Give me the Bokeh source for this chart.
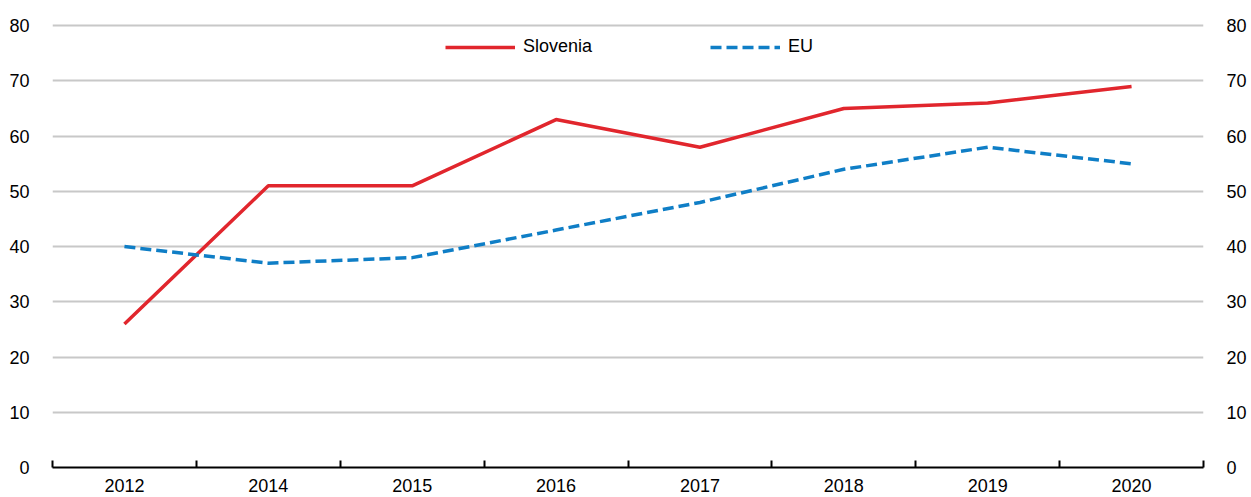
import numpy as np
from bokeh.plotting import figure
from bokeh.models import (Range1d, LinearAxis, FixedTicker, Legend, LegendItem)
from bokeh.embed import file_html
from bokeh.resources import INLINE

years = ["2012", "2014", "2015", "2016", "2017", "2018", "2019", "2020"]
slovenia = [26, 51, 51, 63, 58, 65, 66, 69]
eu = [40, 37, 38, 43, 48, 54, 58, 55]
y_ticks = [0, 10, 20, 30, 40, 50, 60, 70, 80]

FONT = "Liberation Sans"
FS = "18px"
RED = "#e1262d"
BLUE = "#0f7ec6"

n = len(years)
xc = np.arange(n) + 0.5
bounds = list(np.arange(n + 1).astype(float))

p = figure(frame_width=1151, frame_height=444, output_backend="svg",
           toolbar_location=None, x_range=Range1d(0, n), y_range=Range1d(0, 80.4),
           x_axis_location=None, y_axis_location=None,
           min_border_left=52, min_border_right=38, min_border_top=23,
           min_border_bottom=24)
p.outline_line_color = None
p.background_fill_color = "white"
p.border_fill_color = "white"

p.xgrid.visible = False
p.ygrid.ticker = FixedTicker(ticks=y_ticks)
p.ygrid.grid_line_color = "#c8c8c8"
p.ygrid.grid_line_width = 2

# bottom axis: labels at category centres, ticks at category boundaries
xa = LinearAxis(ticker=FixedTicker(ticks=list(xc), minor_ticks=bounds),
                major_label_overrides={float(x): y for x, y in zip(xc, years)})
xa.axis_line_color = "black"
xa.axis_line_width = 2
xa.major_tick_line_color = None
xa.minor_tick_line_color = "black"
xa.minor_tick_line_width = 2
xa.minor_tick_in = 7
xa.minor_tick_out = 0
xa.major_label_standoff = 5
xa.major_label_text_font = FONT
xa.major_label_text_font_size = FS
xa.major_label_text_color = "black"
p.add_layout(xa, "below")

for side in ("left", "right"):
    ya = LinearAxis(ticker=FixedTicker(ticks=y_ticks))
    ya.axis_line_color = None
    ya.major_tick_line_color = None
    ya.minor_tick_line_color = None
    ya.major_label_standoff = 17
    ya.major_label_text_font = FONT
    ya.major_label_text_font_size = FS
    ya.major_label_text_color = "black"
    p.add_layout(ya, side)

r1 = p.line(xc, slovenia, line_color=RED, line_width=3.5)
r2 = p.line(xc, eu, line_color=BLUE, line_width=3.5, line_dash="11 5")

legend = Legend(items=[LegendItem(label="Slovenia", renderers=[r1]),
                       LegendItem(label="EU", renderers=[r2])],
                orientation="horizontal", location=(393, 410),
                padding=0, margin=0, spacing=118,
                glyph_width=70, glyph_height=20, label_standoff=8,
                label_text_font=FONT, label_text_font_size=FS,
                label_text_color="black",
                border_line_color=None, background_fill_alpha=0)
p.add_layout(legend, "center")

open("out.html", "w").write(file_html(p, INLINE))
